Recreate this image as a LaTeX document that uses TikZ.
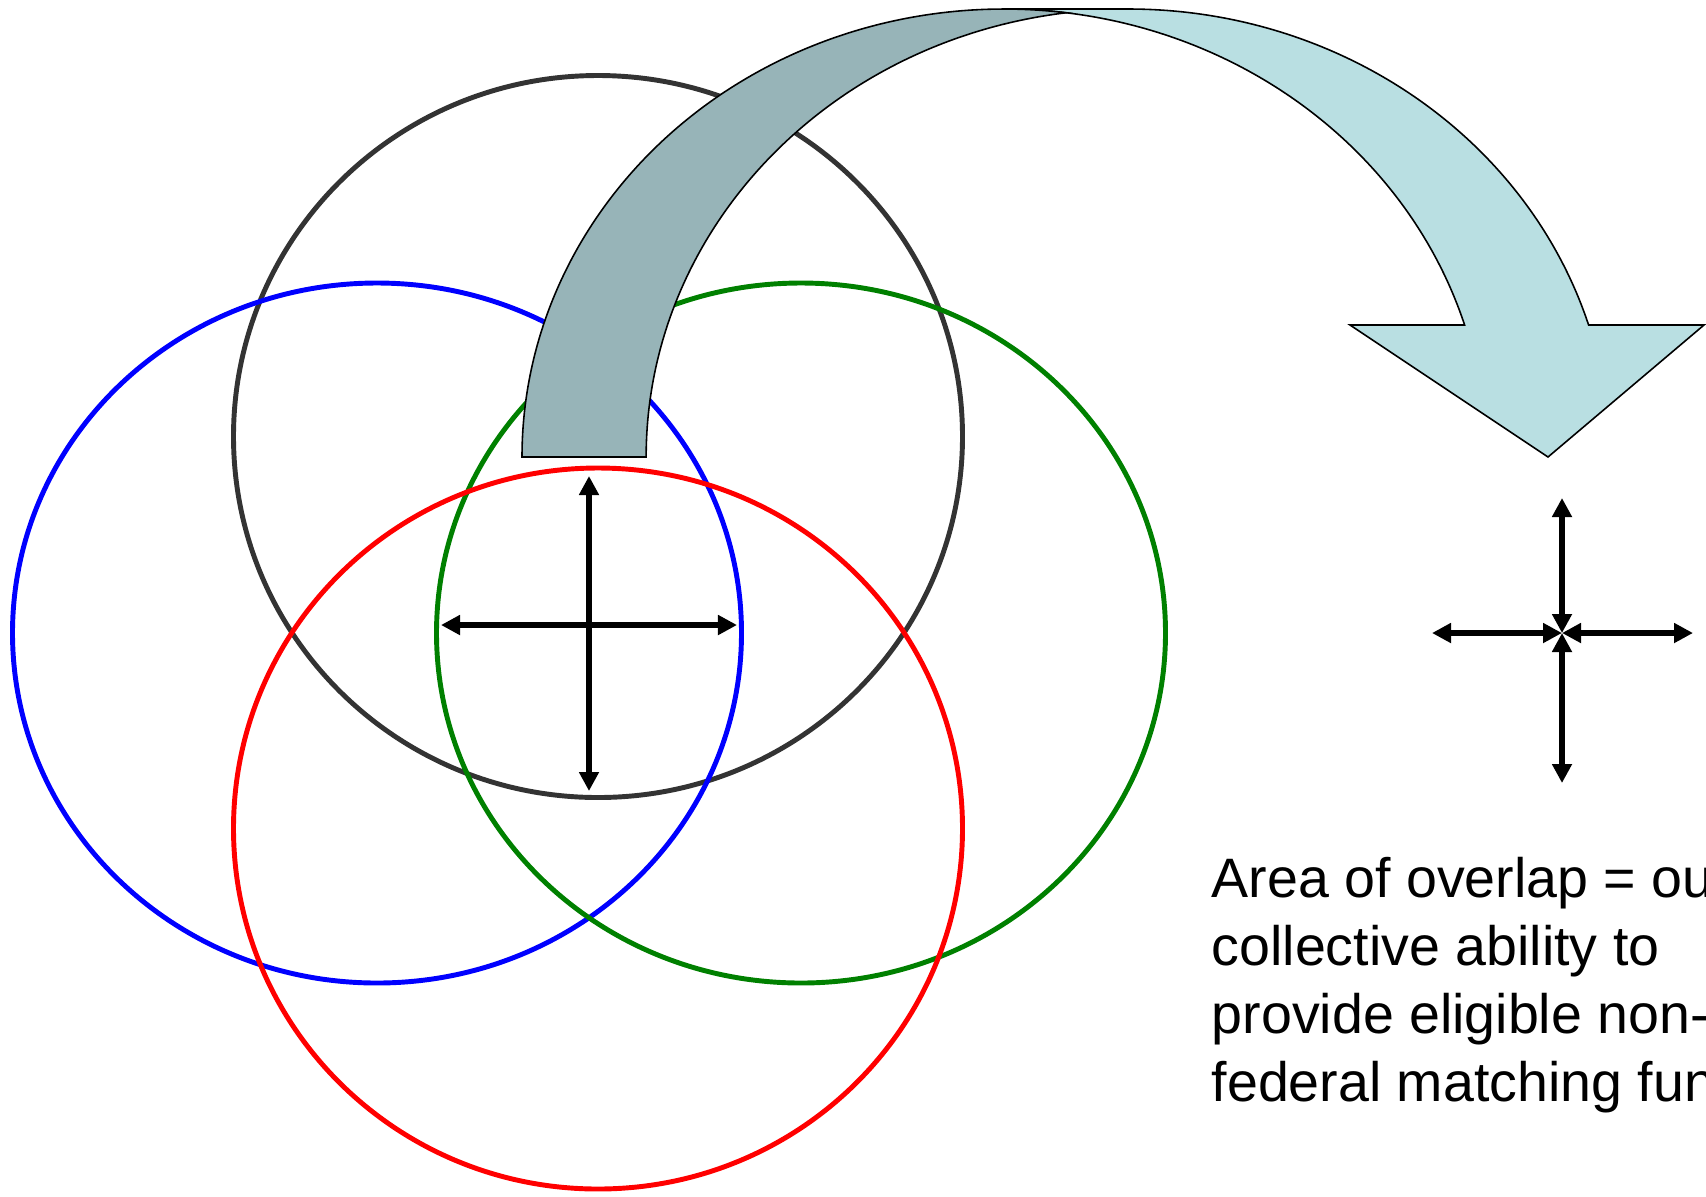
\documentclass[tikz,border=0pt]{standalone}
\usepackage{fontspec}
\setmainfont{Liberation Sans}
\usetikzlibrary{arrows.meta}

\definecolor{bandfront}{RGB}{185,223,226}
\definecolor{bandback}{RGB}{151,180,184}
\definecolor{ringgray}{RGB}{51,51,51}
\definecolor{ringgreen}{RGB}{0,128,0}

\begin{document}
\begin{tikzpicture}[x=0.01cm, y=-0.01cm,
    ring/.style={line width=1.4pt},
    band/.style={draw=black, line width=0.45pt},
    twoway/.style={line width=1.6pt, {Triangle[length=1.9mm,width=1.9mm]}-{Triangle[length=1.9mm,width=1.9mm]}}]
    \useasboundingbox (0,0) rectangle (1706,1196);
    \clip (0,0) rectangle (1706,1196);

    \draw[ring, ringgray] (598,436.5) ellipse[x radius=364.5, y radius=361];
    \draw[ring, blue] (377,633) ellipse[x radius=364.5, y radius=350];
    \draw[ring, ringgreen] (801,633) ellipse[x radius=364.5, y radius=350];
    \draw[ring, red] (598,828.5) ellipse[x radius=364.5, y radius=360.5];

    \draw[band, fill=bandfront] (1004,9) -- (1128,9)
        arc[start angle=270, end angle=342.86, x radius=482, y radius=448]
        -- (1704,325) -- (1548,457) -- (1350,325) -- (1464.6,325)
        arc[start angle=342.86, end angle=270, x radius=482, y radius=448] -- cycle;
    \draw[band, fill=bandback] (522,457)
        arc[start angle=180, end angle=277.4, x radius=482, y radius=448]
        arc[start angle=262.6, end angle=180, x radius=482, y radius=448] -- cycle;

    \coordinate (Vtop) at (589,476);
    \coordinate (Vbot) at (589,791);
    \coordinate (Hleft) at (441,625);
    \coordinate (Hright) at (737,625);
    \draw[twoway] (Vtop) -- (Vbot);
    \draw[twoway] (Hleft) -- (Hright);

    \coordinate (Hub) at (1562,633);
    \coordinate (N) at (1562,498);
    \coordinate (S) at (1562,783);
    \coordinate (W) at (1432,633);
    \coordinate (E) at (1693,633);
    \foreach \tip in {N,S,W,E}
        \draw[twoway] (Hub) -- (\tip);

    \node[anchor=base west, inner sep=0pt, align=left,
          font=\fontsize{15.8pt}{19.3pt}\selectfont] (note) at (1211,1101)
        {Area of overlap = our\\collective ability to\\provide eligible non-\\federal matching funds};
\end{tikzpicture}
\end{document}
